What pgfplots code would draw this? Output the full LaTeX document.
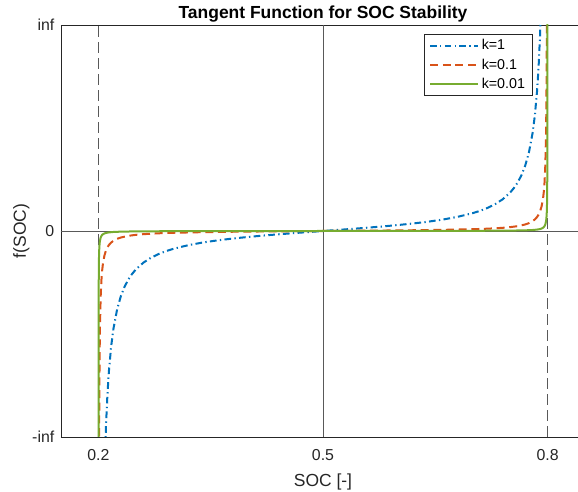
\documentclass[border=0pt]{standalone}
\usepackage{fontspec}
\setmainfont{Liberation Sans}
\usepackage{pgfplots}
\pgfplotsset{compat=1.18}
\definecolor{axc}{rgb}{0.15,0.15,0.15}
\definecolor{mblue}{rgb}{0,0.447,0.741}
\definecolor{morange}{rgb}{0.85,0.325,0.098}
\definecolor{mgreen}{rgb}{0.466,0.674,0.188}
\definecolor{refc}{rgb}{0.35,0.35,0.35}
\tikzset{
  k1style/.style={mblue, line width=1.5pt, dash pattern=on 5pt off 2.5pt on 1pt off 2.5pt},
  k2style/.style={morange, line width=1.5pt, dash pattern=on 6pt off 3.5pt},
  k3style/.style={mgreen, line width=1.5pt, solid},
}
\begin{document}
\begin{tikzpicture}
\begin{axis}[
  scale only axis, width=393pt, height=309pt,
  at={(45.75pt,41.25pt)}, anchor=south west,
  xmin=0.15, xmax=0.85, ymin=-20, ymax=20,
  xtick={0.2,0.5,0.8}, xticklabels={0.2,0.5,0.8},
  ytick={-20,0,20}, yticklabels={-inf,0,inf},
  tick align=inside, major tick length=4pt,
  axis line style={draw=axc, line width=0.5pt},
  tick style={draw=axc, line width=0.5pt},
  ticklabel style={font=\fontsize{11.9}{14}\selectfont, text=axc},
  xticklabel style={yshift=-5.5pt},
  yticklabel style={xshift=-1.5pt},
  title={Tangent Function for SOC Stability},
  title style={font=\bfseries\fontsize{13.1}{15}\selectfont, at={(axis description cs:0.5,1.0146)}, anchor=base, yshift=-6pt},
  xlabel={SOC [-]},
  xlabel style={font=\fontsize{13.1}{15}\selectfont, at={(axis description cs:0.5,-0.119)}, anchor=base, text=axc},
  ylabel={f(SOC)},
  ylabel style={font=\fontsize{13.1}{15}\selectfont, at={(axis description cs:-0.0668,0.5)}, anchor=base, text=axc},
  legend style={at={(axis description cs:0.9,0.978)}, anchor=north east, draw=axc,
    font=\fontsize{10.7}{12}\selectfont, fill=white, inner xsep=3.5pt, inner ysep=2pt, row sep=1pt, cells={anchor=west}},
  legend image code/.code={\draw[#1] (0pt,0pt) -- (36pt,0pt);},
]
\addlegendimage{k1style}
\addlegendentry{k=1}
\addlegendimage{k2style}
\addlegendentry{k=0.1}
\addlegendimage{k3style}
\addlegendentry{k=0.01}
% reference lines
\addplot[refc, line width=0.5pt, dash pattern=on 8pt off 4pt, forget plot] coordinates {(0.2,-20) (0.2,20)};
\addplot[refc, line width=0.5pt, dash pattern=on 8pt off 4pt, forget plot] coordinates {(0.8,-20) (0.8,20)};
\addplot[refc, line width=0.5pt, forget plot] coordinates {(0.5,-20) (0.5,20)};
\addplot[refc, line width=0.5pt, forget plot] coordinates {(0.15,0) (0.85,0)};
% k = 1
\addplot[k1style, forget plot] coordinates {
(0.208,-23.859) (0.21,-19.081) (0.212,-15.895) (0.214,-13.617) (0.217,-11.205) (0.22,-9.5144)
(0.225,-7.5958) (0.23,-6.3138) (0.235,-5.3955) (0.24,-4.7046) (0.245,-4.1653) (0.25,-3.7321)
(0.26,-3.0777) (0.27,-2.6051) (0.28,-2.2460) (0.29,-1.9626) (0.30,-1.7321) (0.32,-1.3764) (0.34,-1.1106)
(0.36,-0.9004) (0.38,-0.7265) (0.40,-0.5774) (0.42,-0.4452) (0.44,-0.3249) (0.46,-0.2126)
(0.48,-0.1051) (0.50,0) (0.52,0.1051) (0.54,0.2126) (0.56,0.3249) (0.58,0.4452) (0.60,0.5774)
(0.62,0.7265) (0.64,0.9004) (0.66,1.1106) (0.68,1.3764) (0.70,1.7321) (0.71,1.9626) (0.72,2.2460)
(0.73,2.6051) (0.74,3.0777) (0.75,3.7321) (0.755,4.1653) (0.76,4.7046) (0.765,5.3955)
(0.77,6.3138) (0.775,7.5958) (0.78,9.5144) (0.783,11.205) (0.786,13.617) (0.788,15.895)
(0.79,19.081) (0.792,23.859)};
% k = 0.1
\addplot[k2style, forget plot] coordinates {
(0.2007,-27.283) (0.201,-19.098) (0.2015,-12.732) (0.202,-9.5489) (0.203,-6.3657) (0.204,-4.774)
(0.205,-3.8188) (0.206,-3.1821) (0.208,-2.3859) (0.21,-1.9081) (0.212,-1.5895) (0.214,-1.3617)
(0.217,-1.1205) (0.22,-0.95144) (0.225,-0.75958) (0.23,-0.63138) (0.24,-0.47046) (0.25,-0.37321)
(0.26,-0.30777) (0.28,-0.22460) (0.30,-0.17321) (0.34,-0.11106) (0.38,-0.07265) (0.42,-0.04452)
(0.46,-0.02126) (0.50,0) (0.54,0.02126) (0.58,0.04452) (0.62,0.07265) (0.66,0.11106) (0.70,0.17321)
(0.72,0.22460) (0.74,0.30777) (0.75,0.37321) (0.76,0.47046) (0.77,0.63138) (0.775,0.75958)
(0.78,0.95144) (0.783,1.1205) (0.786,1.3617) (0.788,1.5895) (0.79,1.9081) (0.792,2.3859)
(0.794,3.1821) (0.795,3.8188) (0.796,4.774) (0.797,6.3657) (0.798,9.5489) (0.7985,12.732)
(0.799,19.098) (0.7993,27.283)};
% k = 0.01
\addplot[k3style, forget plot] coordinates {
(0.20005,-38.197) (0.2001,-19.099) (0.2002,-9.5493) (0.2003,-6.3662) (0.2005,-3.8197) (0.2007,-2.7283)
(0.201,-1.9098) (0.2015,-1.2732) (0.202,-0.95489) (0.203,-0.63657) (0.204,-0.4774) (0.205,-0.38188)
(0.206,-0.31821) (0.208,-0.23859) (0.21,-0.19081) (0.214,-0.13617) (0.22,-0.095144) (0.23,-0.063138)
(0.25,-0.037321) (0.30,-0.017321) (0.40,-0.0057735) (0.50,0) (0.60,0.0057735) (0.70,0.017321)
(0.75,0.037321) (0.77,0.063138) (0.78,0.095144) (0.786,0.13617) (0.79,0.19081) (0.792,0.23859)
(0.794,0.31821) (0.795,0.38188) (0.796,0.4774) (0.797,0.63657) (0.798,0.95489) (0.7985,1.2732)
(0.799,1.9098) (0.7993,2.7283) (0.7995,3.8197) (0.7997,6.3662) (0.7998,9.5493) (0.7999,19.099)
(0.79995,38.197)};
\end{axis}
\pgfresetboundingbox
\useasboundingbox (0,0) rectangle (433.5pt,369pt);
\end{tikzpicture}
\end{document}
